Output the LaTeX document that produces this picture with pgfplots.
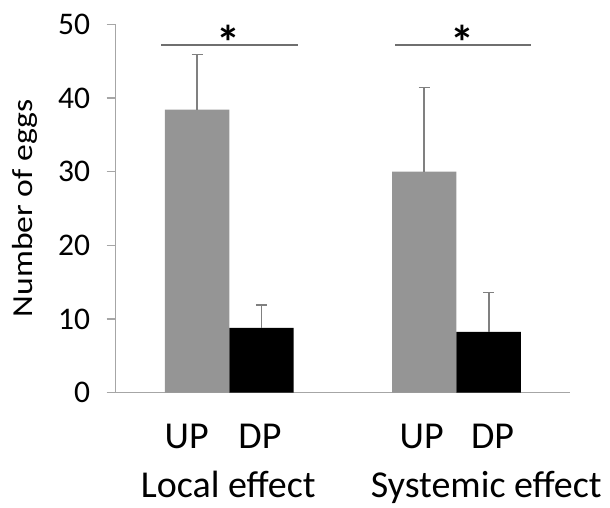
\documentclass[border=0pt]{standalone}
\usepackage{pgfplots}
\pgfplotsset{compat=1.18}
\usepackage{fontspec}
\setmainfont{Carlito}
\definecolor{bargray}{HTML}{959595}
\definecolor{axgray}{HTML}{A6A6A6}
\definecolor{errgray}{HTML}{808080}
\definecolor{siggray}{HTML}{6F6F6F}
\begin{document}
\begin{tikzpicture}
\useasboundingbox (0,0) rectangle (610pt,507pt);
\begin{axis}[
  at={(115.7pt,114.3pt)}, anchor=south west,
  scale only axis, width=454.3pt, height=368.5pt,
  xmin=0.5, xmax=2.5, ymin=0, ymax=50,
  axis x line*=bottom, axis y line*=left,
  axis line style={draw=axgray, line width=1.3pt},
  xtick=\empty, ytick={0,10,20,30,40,50},
  tick align=outside, major tick length=9pt,
  every tick/.style={draw=axgray, line width=1.3pt},
  yticklabel style={font=\fontsize{31.5}{36}\selectfont, text=black, xshift=-13pt},
  /pgf/number format/assume math mode=true,
  ybar, bar width=0.2835,
  clip=false,
]
\addplot[fill=bargray, draw=none, bar shift=-0.14175,
  error bars/.cd, y dir=plus, y explicit, error mark=-,
  error bar style={draw=errgray, line width=1.8pt},
  error mark options={rotate=90, draw=errgray, mark size=5.5pt, line width=1.8pt}]
  coordinates {(1,38.4) +- (0,7.5) (2,30.0) +- (0,11.4)};
\addplot[fill=black, draw=none, bar shift=0.14175,
  error bars/.cd, y dir=plus, y explicit, error mark=-,
  error bar style={draw=errgray, line width=1.8pt},
  error mark options={rotate=90, draw=errgray, mark size=5.5pt, line width=1.8pt}]
  coordinates {(1,8.8) +- (0,3.15) (2,8.24) +- (0,5.36)};
\draw[siggray, line width=1.6pt] (axis cs:0.701,47.2) -- (axis cs:1.303,47.2);
\draw[siggray, line width=1.6pt] (axis cs:1.730,47.2) -- (axis cs:2.330,47.2);
\node[font=\fontsize{48}{52}\selectfont\bfseries, inner sep=0pt, anchor=north] at (axis cs:0.997,49.9) {*};
\node[font=\fontsize{48}{52}\selectfont\bfseries, inner sep=0pt, anchor=north] at (axis cs:2.026,49.9) {*};
\end{axis}
\node[rotate=90, xscale=1.16, anchor=base, inner sep=0pt, font=\fontsize{29}{34}\selectfont] at (32.7pt,298.7pt) {Number of eggs};
\begin{scope}[every node/.style={font=\fontsize{38}{44}\selectfont, inner sep=0pt}]
\node[anchor=base] at (186.7pt,58.7pt) {UP};
\node[anchor=base] at (260pt,58.7pt) {DP};
\node[anchor=base] at (421.7pt,58.7pt) {UP};
\node[anchor=base] at (492.5pt,58.7pt) {DP};
\node[anchor=base west] at (140.7pt,10pt) {Local effect};
\node[anchor=base west] at (370.7pt,10pt) {Systemic effect};
\end{scope}
\end{tikzpicture}
\end{document}
